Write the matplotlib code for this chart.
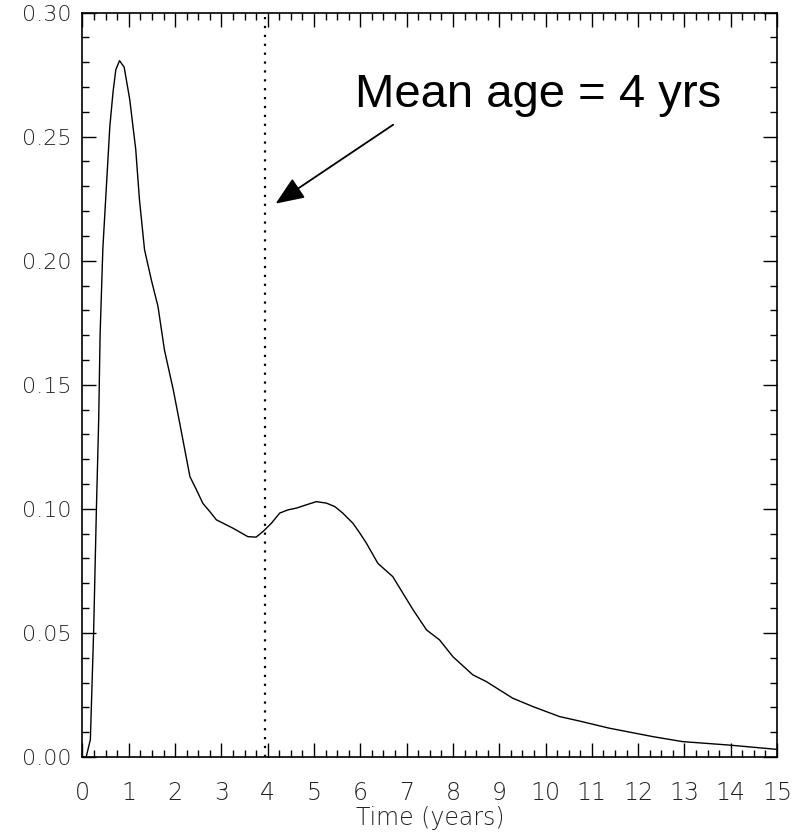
import matplotlib
matplotlib.use("Agg")
import matplotlib.pyplot as plt
from matplotlib.ticker import MultipleLocator, FormatStrFormatter

# Data
time_years = [0.0, 0.08, 0.17, 0.24, 0.30, 0.35, 0.38, 0.44, 0.50, 0.59, 0.66, 0.72,
              0.80, 0.90, 1.02, 1.15, 1.23, 1.34, 1.49, 1.63, 1.77, 1.96, 2.10, 2.32,
              2.46, 2.60, 2.75, 2.89, 3.11, 3.25, 3.57, 3.75, 3.90, 4.08, 4.26, 4.44,
              4.62, 4.83, 5.05, 5.27, 5.45, 5.62, 5.84, 5.99, 6.13, 6.38, 6.70, 7.14,
              7.43, 7.71, 8.00, 8.43, 8.72, 9.29, 9.73, 10.30, 10.73, 11.38, 12.32,
              12.96, 13.97, 14.98]
density = [0.0, 0.0, 0.007, 0.05, 0.0996, 0.136, 0.170, 0.205, 0.2246, 0.254, 0.268,
           0.277, 0.2806, 0.278, 0.265, 0.2448, 0.2246, 0.2044, 0.192, 0.1816, 0.164,
           0.148, 0.1345, 0.113, 0.1077, 0.1022, 0.0989, 0.0956, 0.0935, 0.0922,
           0.0888, 0.0886, 0.0909, 0.0942, 0.0983, 0.0996, 0.1003, 0.1016, 0.1029,
           0.1023, 0.1009, 0.0983, 0.0942, 0.0902, 0.0862, 0.078, 0.0727, 0.0593,
           0.0512, 0.0472, 0.0404, 0.0331, 0.0304, 0.0237, 0.0203, 0.0163, 0.0145,
           0.0116, 0.0082, 0.0062, 0.0048, 0.0031]
mean_age = 3.94
annotation_text = "Mean age = 4 yrs"
arrow_tip = (4.17, 0.223)
arrow_tail = (6.71, 0.2548)
x_label = "Time (years)"

fig = plt.figure(figsize=(7.97, 8.36), dpi=100)
ax = fig.add_axes([0.1035, 0.0945, 0.8715, 0.8905])

ax.plot(time_years, density, color="black", linewidth=1.0, solid_joinstyle="round")
ax.axvline(mean_age, color="black", linewidth=1.6, linestyle=(0, (1, 3)))

ax.annotate("", xy=arrow_tip, xytext=arrow_tail,
            arrowprops=dict(arrowstyle="-|>,head_length=1.1,head_width=0.45",
                            mutation_scale=16, color="black", linewidth=1.3,
                            shrinkA=0, shrinkB=0))
ax.text(355 / 797, 1 - 107 / 836, annotation_text, transform=fig.transFigure,
        fontsize=34, family="Liberation Sans", color="black",
        ha="left", va="baseline")

ax.set_xlim(0, 15)
ax.set_ylim(0, 0.30)
ax.xaxis.set_major_locator(MultipleLocator(1))
ax.xaxis.set_minor_locator(MultipleLocator(0.25))
ax.yaxis.set_major_locator(MultipleLocator(0.05))
ax.yaxis.set_minor_locator(MultipleLocator(0.01))
ax.yaxis.set_major_formatter(FormatStrFormatter("%.2f"))

ax.tick_params(which="both", direction="in", top=True, right=True, color="black",
               width=1.0)
ax.tick_params(which="major", length=10)
ax.tick_params(which="minor", length=5)
ax.tick_params(axis="y", which="major", pad=8, labelsize=16, labelcolor="#222222")
ax.tick_params(axis="x", which="major", pad=17, labelsize=17, labelcolor="#222222")
for lab in ax.get_xticklabels() + ax.get_yticklabels():
    lab.set_fontweight("light")

for sp in ax.spines.values():
    sp.set_linewidth(1.2)

ax.set_xlabel(x_label, fontsize=17, color="#222222", labelpad=1, fontweight="light")

fig.savefig("out.png", dpi=100)
